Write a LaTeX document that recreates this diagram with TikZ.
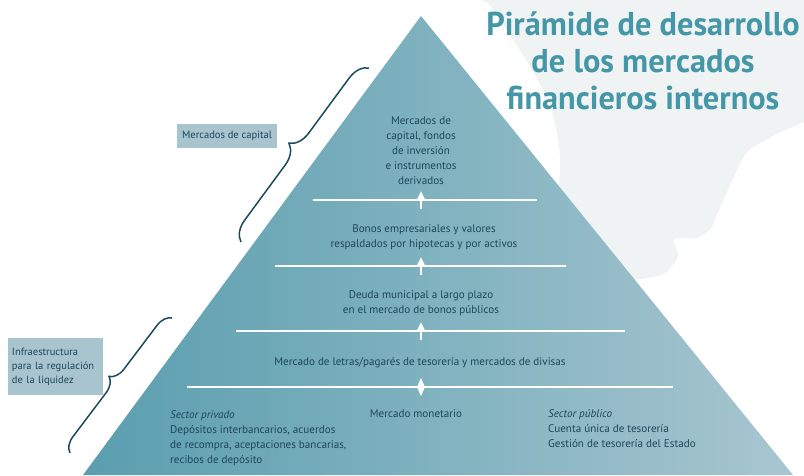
\documentclass[tikz,border=0pt]{standalone}
\usepackage{fontspec}
\setmainfont{PT Sans}
\newfontfamily\bodyfont{PT Sans}
\newfontfamily\titlefont{PT Sans}[FakeStretch=0.98]
\usetikzlibrary{decorations.pathreplacing,arrows.meta}
\definecolor{txt}{HTML}{1D475A}
\definecolor{ttl}{HTML}{4597A7}
\definecolor{blob}{HTML}{EFF3F4}
\definecolor{pyrL}{HTML}{5A9EAF}
\definecolor{pyrR}{HTML}{A8C6D0}
\definecolor{lbl}{HTML}{A7C4CF}
\definecolor{brc}{HTML}{1B4A5E}
\tikzset{
  body/.style={inner sep=0pt, text=txt, font=\bodyfont\fontsize{11.1pt}{15pt}\selectfont, align=center},
  bodyl/.style={body, align=left},
  lblbox/.style={fill=lbl, inner sep=0pt, text=txt, font=\bodyfont\fontsize{10.5pt}{14pt}\selectfont},
  wline/.style={draw=white, line width=2pt},
  uparrow/.style={draw=white, line width=2.5pt, -{Triangle[width=8pt,length=9pt]}},
  bracestyle/.style={draw=brc, line width=1.5pt, decorate},
  title/.style={inner sep=0pt, text=ttl, font=\titlefont\bfseries\fontsize{33pt}{37pt}\selectfont, align=center}
}
\begin{document}
\begin{tikzpicture}[x=1pt,y=-1pt]
\useasboundingbox (0,0) rectangle (804,475);
% background blob
\fill[blob] plot[smooth cycle, tension=0.5] coordinates {
 (485,-10) (490,5) (510,35) (535,75) (553,115) (560,160) (558,215) (570,262)
 (600,280) (640,279) (665,273) (678,256) (674,239) (697,238) (712,227) (718,212)
 (742,160) (752,148) (777,134) (806,121) (830,110) (830,-10)};
% pyramid
\coordinate (apex) at (421,16);
\coordinate (bl) at (83,475);
\coordinate (br) at (793,475);
\shade[left color=pyrL, right color=pyrR] (apex) -- (br) -- (bl) -- cycle;
% title
\node[title] (title) at (643,61) {Pirámide de desarrollo\\de los mercados\\financieros internos};
% separator lines
\coordinate (l1a) at (313,200); \coordinate (l1b) at (537,200);
\coordinate (l2a) at (275,266); \coordinate (l2b) at (566,266);
\coordinate (l3a) at (236,331); \coordinate (l3b) at (625,331);
\coordinate (l4a) at (187,387); \coordinate (l4b) at (673,387);
\draw[wline] (l1a) -- (l1b);
\draw[wline] (l2a) -- (l2b);
\draw[wline] (l3a) -- (l3b);
\draw[wline] (l4a) -- (l4b);
% arrows
\coordinate (a1s) at (421,209); \coordinate (a1e) at (421,191);
\coordinate (a2s) at (421,275); \coordinate (a2e) at (421,257);
\coordinate (a3s) at (421,340); \coordinate (a3e) at (421,322);
\draw[uparrow] (a1s) -- (a1e);
\draw[uparrow] (a2s) -- (a2e);
\draw[uparrow] (a3s) -- (a3e);
\fill[white] (421,378) -- (425,387) -- (421,396) -- (417,387) -- cycle;
% texts
\node[body] (t1) at (421,151) {Mercados de\\capital, fondos\\de inversión\\e instrumentos\\derivados};
\node[body] (t2) at (424,237.5) {Bonos empresariales y valores\\respaldados por hipotecas y por activos};
\node[body] (t3) at (421,303.5) {Deuda municipal a largo plazo\\en el mercado de bonos públicos};
\node[body] (t4) at (420,363) {Mercado de letras/pagarés de tesorería y mercados de divisas};
\node[body] (t5) at (416,414) {Mercado monetario};
\node[bodyl, anchor=north west] (priv) at (170,410) {\textit{Sector privado}\\Depósitos interbancarios, acuerdos\\de recompra, aceptaciones bancarias,\\recibos de depósito};
\node[bodyl, anchor=north west] (pub) at (548,409.5) {\textit{Sector público}\\Cuenta única de tesorería\\Gestión de tesorería del Estado};
% label boxes
\node[lblbox, minimum width=100pt, minimum height=24pt] (cap) at (227,136) {Mercados de capital};
\node[lblbox, minimum width=95pt, minimum height=57pt, text width=87pt, align=left] (liq) at (55.5,366.5) {Infraestructura\\para la regulación\\de la liquidez};
% braces
\coordinate (b1s) at (241,242); \coordinate (b1e) at (369,68);
\coordinate (b2s) at (70,453); \coordinate (b2e) at (172,318);
\draw[bracestyle, decoration={brace, amplitude=20pt}] (b1s) -- (b1e);
\draw[bracestyle, decoration={brace, amplitude=15pt}] (b2s) -- (b2e);
\end{tikzpicture}
\end{document}
